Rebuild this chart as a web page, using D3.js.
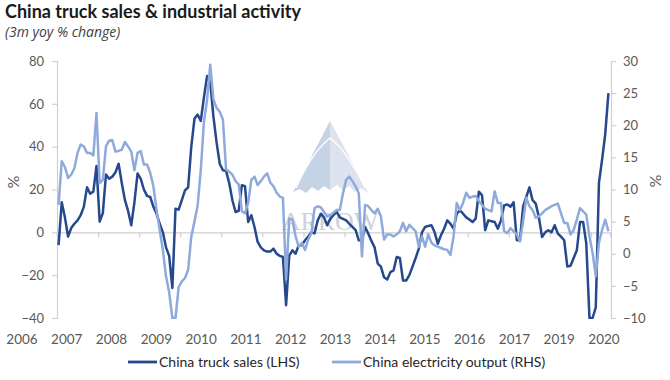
<!DOCTYPE html>
<html>
<head>
<meta charset="utf-8">
<script src="https://cdn.jsdelivr.net/npm/d3@7"></script>
<style>
body { margin: 0; background: #fff; }
svg { display: block; font-family: Lato, "Open Sans", sans-serif; }
</style>
</head>
<body>
<svg id="chart" width="670" height="380"></svg>
<script>
// monthly, Jan 2006 .. Jul 2020
var startMonth = new Date(2006, 0, 1);
var yearLabels = ["2006", "2007", "2008", "2009", "2010", "2011", "2012", "2013",
    "2014", "2015", "2016", "2017", "2019", "2020"];
var leftTicks = [-40, -20, 0, 20, 40, 60, 80];
var rightTicks = [-10, -5, 0, 5, 10, 15, 20, 25, 30];

// China truck sales, 3m yoy % (LHS)
var truckSales = [
    -6, 14, 7, -2, 2, 4, 5.6, 8, 12, 21, 18, 19,
    31, 5, 9, 27, 25, 26, 28, 32, 23, 15, 10, 3.3,
    14, 27.5, 25, 20, 17, 16.5, 12, 8.7, 4, 0, -7, -11,
    -26, 11, 10.6, 15, 19.6, 21, 40, 53, 55, 52, 63, 73,
    70, 54, 42, 32, 29, 28.7, 23, 15, 9.5, 10, 22, 21.5,
    4.8, 8, 2.5, -4.5, -7, -8.4, -9, -9, -7.6, -10, -11, -11.5,
    -34, -10.8, -8.4, -10, -6, -6, -3.7, -2, 0, -0.5, 5.6, 8.7,
    7, 3.3, 6.4, 8, 9.5, 7, 6.3, 5.6, 4, 2.5, 1, -3.7,
    -3.7, 2.5, -0.6, -4, -7, -14.6, -16, -21, -22, -18.6, -17.8, -11.5,
    -12, -22.5, -22.5, -20, -16, -12, -7.6, 0, 2.5, 3, 3.3, 0,
    -5.3, -1.4, 1.7, 5.6, 4, 1.7, 8.7, 10.3, 8.7, 7, 6, 4.8,
    6.4, 19, 17.3, 1, 5.6, 5.2, 4.8, 1.7, 5.6, 12.6, 13, 12,
    14, -3.7, -3.7, 12, 16.5, 21, 15, 13.4, 7, -2.2, 0, 1,
    0, 3.3, -0.6, -2, -3.7, -16, -15.6, -12, -8.4, 4.8, 4.8, -5.3,
    -40, -40, -35, 23, 34, 46, 65
];

// China electricity output, 3m yoy % (RHS)
var electricityOutput = [
    7.6, 14.4, 13.5, 11.8, 12.3, 13.3, 15.7, 17, 16.7, 15.7, 15.7, 15.3,
    21.9, 11, 11.5, 16.7, 17.6, 17.7, 15.9, 16, 16.2, 17.4, 16.7, 15.9,
    13, 15.7, 16, 13.9, 13.9, 12.6, 10.5, 6.8, 3.7, 0.6, -3.5, -6,
    -10, -10, -5.2, -4.3, -3.8, -2.5, 2.7, 5, 7.5, 13, 20.5, 24,
    29.4, 24, 22.7, 22.1, 20.9, 13.1, 12.8, 12.3, 11.3, 10.8, 6.6, 6.3,
    7.9, 11.5, 12, 10.7, 11.3, 12, 12.5, 11.1, 10.5, 9.5, 8.9, 8.7,
    -4, 5.5, 5.3, 2.7, 1.1, 1.7, 0.6, 2.2, 3.2, 7.1, 7.4, 7.2,
    6.5, 5.8, 6, 6.4, 6.8, 6.8, 9.4, 11.5, 12, 11.3, 10.5, 9.4,
    -0.4, 7.6, 7.4, 6.8, 6.3, 7, 5.8, 2.2, 3, 3, 2.7, 3,
    3.5, 4.8, 3.5, 4.5, 4, 3.5, 1.1, 2.7, 1.1, 3, 1.7, 1.3,
    1.1, 0.9, 0.7, 0.6, -0.2, 2.7, 7.9, 6.8, 7.9, 9.5, 8.7, 8.9,
    9, 8.2, 7.6, 7, 6.8, 6.6, 9.7, 7.9, 7.9, 3.5, 3.2, 4,
    3.5, 3, 1.9, 5, 8.7, 7.4, 6.8, 5.6, 5.8, 6.3, 6.8, 7.1,
    7.4, 7.6, 7.8, 6.3, 4.8, 4.8, 3, 3.7, 5.3, 7.1, 6.6, 6.1,
    2.7, 0.1, -3.5, 1.7, 3.7, 5.3, 3.5
];

var seriesNames = ["China truck sales (LHS)", "China electricity output (RHS)"];
var darkBlue = "#25498c";
var lightBlue = "#8eaadc";
var axisGrey = "#d0d0d0";
var textGrey = "#595959";

var svg = d3.select("#chart");
var months = truckSales.map(function(v, i) { return d3.timeMonth.offset(startMonth, i); });

// category style x axis: each month gets one slot
var x = d3.scaleLinear().domain([0, months.length]).range([57, 610]);
var yL = d3.scaleLinear().domain([-40, 80]).range([318, 61]);
var yR = d3.scaleLinear().domain([-10, 30]).range([318, 61]);

svg.append("defs").append("clipPath").attr("id", "plot")
    .append("rect").attr("x", 57).attr("y", 60).attr("width", 554).attr("height", 259);

// watermark
var wm = svg.append("g").attr("class", "watermark");
wm.append("path")
    .attr("d", "M330,121 Q316,148 293,192 L300,189 L306,193 L312,187 L318,191 L324,186 L330,190 Z")
    .attr("fill", "#c4d4e4");
wm.append("path")
    .attr("d", "M330,121 Q345,148 368,193 L361,188 L355,192 L349,186 L343,190 L337,185 L330,190 Z")
    .attr("fill", "#dde2ee");
wm.append("path")
    .attr("d", "M296,188 Q312,152 330,138 Q348,152 365,188")
    .attr("fill", "none").attr("stroke", "#fff").attr("stroke-width", 1.5);
wm.append("text")
    .attr("x", 330).attr("y", 230)
    .attr("text-anchor", "middle")
    .style("font-family", "'Liberation Serif', serif")
    .style("font-size", "26px")
    .attr("fill", "#ccd1da")
    .text("ARROW");

// zero line with tick marks every 13 months
var xAxis = d3.axisBottom(x)
    .tickValues(d3.range(0, months.length, 13))
    .tickSize(5)
    .tickFormat("");
var gx = svg.append("g").attr("transform", "translate(0," + yL(0) + ")").call(xAxis);
gx.selectAll("path, line").attr("stroke", axisGrey).attr("stroke-width", 1.2);

var gl = svg.append("g").attr("transform", "translate(57,0)")
    .call(d3.axisLeft(yL).tickValues(leftTicks).tickSize(5).tickPadding(8));
var gr = svg.append("g").attr("transform", "translate(611,0)")
    .call(d3.axisRight(yR).tickValues(rightTicks).tickSize(5).tickPadding(7));
[gl, gr].forEach(function(g) {
    g.selectAll("path, line").attr("stroke", axisGrey).attr("stroke-width", 1.2);
    g.selectAll("text").attr("fill", textGrey).style("font-size", "13px")
        .style("font-family", "Lato, sans-serif");
});

// year labels sit on their own, spaced evenly under the plot
var xLab = d3.scalePoint().domain(yearLabels).range([22, 604]);
svg.append("g").selectAll("text").data(yearLabels).enter().append("text")
    .attr("x", function(d) { return xLab(d); })
    .attr("y", 344)
    .attr("text-anchor", "middle")
    .attr("fill", textGrey)
    .style("font-size", "13.5px")
    .text(function(d) { return d; });

// the two lines
var lineL = d3.line()
    .x(function(d, i) { return x(i + 0.5); })
    .y(function(d) { return yL(d); });
var lineR = d3.line()
    .x(function(d, i) { return x(i + 0.5); })
    .y(function(d) { return yR(d); });

var plot = svg.append("g").attr("clip-path", "url(#plot)");
plot.append("path").datum(truckSales)
    .attr("d", lineL)
    .attr("fill", "none").attr("stroke", darkBlue)
    .attr("stroke-width", 2.5).attr("stroke-linejoin", "round");
plot.append("path").datum(electricityOutput)
    .attr("d", lineR)
    .attr("fill", "none").attr("stroke", lightBlue)
    .attr("stroke-width", 2.5).attr("stroke-linejoin", "round");

// axis titles
svg.append("text").attr("transform", "translate(19,182) rotate(-90)")
    .attr("text-anchor", "middle").attr("fill", textGrey)
    .style("font-size", "16px").text("%");
svg.append("text").attr("transform", "translate(661,181) rotate(-90)")
    .attr("text-anchor", "middle").attr("fill", textGrey)
    .style("font-size", "16px").text("%");

// title
svg.append("text").attr("x", 5).attr("y", 18)
    .attr("fill", "#1a1a1a")
    .style("font-size", "18px").style("font-weight", "bold")
    .text("China truck sales & industrial activity");
svg.append("text").attr("x", 5).attr("y", 37)
    .attr("fill", "#404040")
    .style("font-family", "'Open Sans', sans-serif")
    .style("font-size", "14px").style("font-style", "italic")
    .text("(3m yoy % change)");

// legend
var legendX = [128, 332];
var legend = svg.append("g").selectAll("g").data(seriesNames).enter().append("g")
    .attr("transform", function(d, i) { return "translate(" + legendX[i] + ",362)"; });
legend.append("line")
    .attr("x1", 0).attr("x2", 29)
    .attr("stroke", function(d, i) { return i == 0 ? darkBlue : lightBlue; })
    .attr("stroke-width", 2.8);
legend.append("text")
    .attr("x", 31).attr("dy", "0.35em")
    .attr("fill", "#262626")
    .style("font-size", "14px")
    .text(function(d) { return d; });
</script>
</body>
</html>
